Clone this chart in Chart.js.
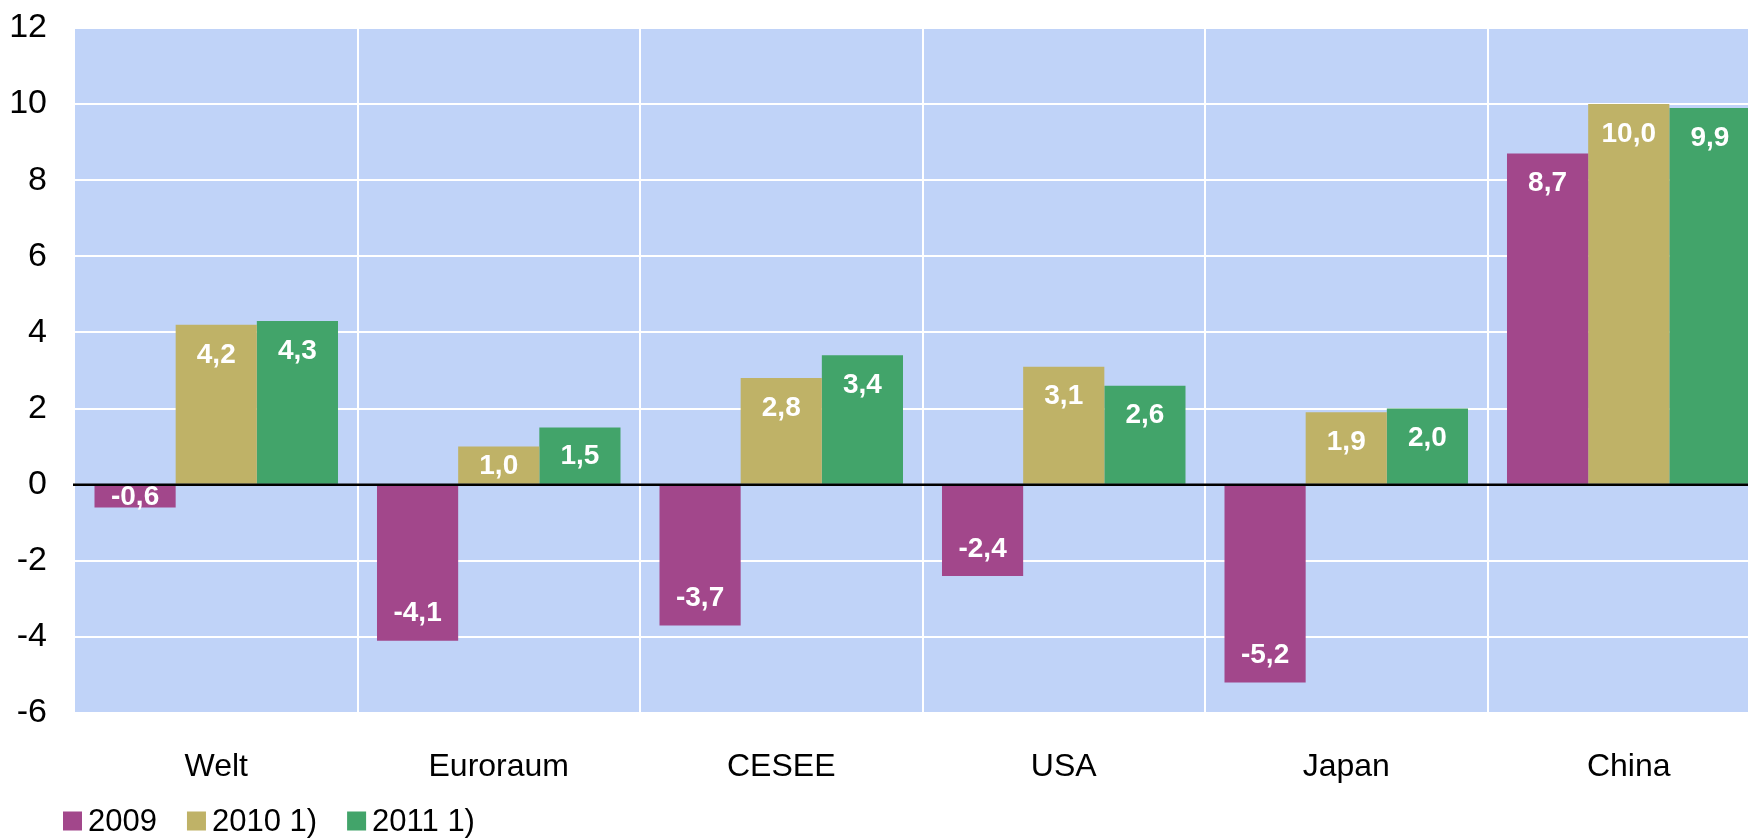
<!DOCTYPE html>
<html><head><meta charset="utf-8">
<script src="https://cdn.jsdelivr.net/npm/chart.js@4/dist/chart.umd.min.js"></script>
<style>html,body{margin:0;padding:0;overflow:hidden;background:#fff;width:1748px;height:838px}#wrap{width:1770px;height:838px}</style>
</head><body><div id="wrap"><canvas id="c" width="1770" height="838"></canvas></div>
<script>
const categories = ["Welt","Euroraum","CESEE","USA","Japan","China"];
const seriesNames = ["2009","2010 1)","2011 1)"];
const values2009 = [-0.6,-4.1,-3.7,-2.4,-5.2,8.7];
const values2010 = [4.2,1.0,2.8,3.1,1.9,10.0];
const values2011 = [4.3,1.5,3.4,2.6,2.0,9.9];
const colors = ["#A2478B","#BFB267","#42A46A"];
const yMin = -6, yMax = 12, yStep = 2;

const FONT = "'Liberation Sans', Arial, sans-serif";

const bgPlugin = {
  id:'bg',
  beforeDraw(chart){
    const {ctx, chartArea:a} = chart;
    ctx.save(); ctx.fillStyle = '#C0D3F8';
    ctx.fillRect(a.left, a.top, a.right-a.left, a.bottom-a.top);
    ctx.restore();
  },
  afterDatasetsDraw(chart){
    const {ctx, chartArea:a} = chart;
    const y0 = chart.scales.y.getPixelForValue(0);
    ctx.save(); ctx.strokeStyle='#000'; ctx.lineWidth=2.5;
    ctx.beginPath(); ctx.moveTo(a.left-2, y0); ctx.lineTo(a.right, y0); ctx.stroke();
    ctx.font = "bold 28px " + FONT; ctx.fillStyle='#fff';
    ctx.textAlign='center'; ctx.textBaseline='middle';
    chart.data.datasets.forEach((ds, di) => {
      chart.getDatasetMeta(di).data.forEach((bar, i) => {
        const v = ds.data[i];
        const h = Math.abs(bar.base - bar.y);
        let ty;
        if (h < 58) ty = (bar.base + bar.y)/2;
        else ty = v >= 0 ? bar.y + 29 : bar.y - 28;
        ctx.fillText(v.toFixed(1).replace('.', ','), bar.x, ty + 1);
      });
    });
    ctx.restore();
  },
  afterDraw(chart){
    const {ctx} = chart;
    ctx.save();
    ctx.font = "31px " + FONT; ctx.textBaseline='middle'; ctx.textAlign='left'; ctx.fillStyle='#000';
    let x = 63; const yc = 821;
    chart.data.datasets.forEach((ds) => {
      ctx.fillStyle = ds.backgroundColor;
      ctx.fillRect(x, yc-9.5, 19, 19);
      ctx.fillStyle = '#000';
      ctx.fillText(ds.label, x+25, yc+1);
      x = x + 25 + ctx.measureText(ds.label).width + 30;
    });
    ctx.restore();
  }
};

new Chart(document.getElementById('c'), {
  type:'bar',
  data:{
    labels: categories,
    datasets:[
      {label:seriesNames[0], data:values2009, backgroundColor:colors[0]},
      {label:seriesNames[1], data:values2010, backgroundColor:colors[1]},
      {label:seriesNames[2], data:values2011, backgroundColor:colors[2]}
    ]
  },
  options:{
    responsive:false, animation:false,
    layout:{padding:{top:28,left:0,right:0,bottom:0}},
    datasets:{bar:{categoryPercentage:0.862, barPercentage:1.0, borderWidth:0}},
    plugins:{legend:{display:false}, tooltip:{enabled:false}},
    scales:{
      x:{
        grid:{offset:true, drawTicks:false, lineWidth:2,
          color:(c)=> c.index===0 ? 'rgba(0,0,0,0)' : '#FFFFFF'},
        border:{display:false},
        ticks:{color:'#000', font:{family:FONT, size:32}, padding:35, maxRotation:0},
        afterFit:(s)=>{ s.height = 125; s.paddingLeft = 0; s.paddingRight = 0; }
      },
      y:{
        min:yMin, max:yMax,
        grid:{drawTicks:false, lineWidth:2, color:'#FFFFFF'},
        border:{display:false},
        ticks:{stepSize:yStep, color:'#000', font:{family:FONT, size:34}, padding:28,
          callback:(v)=> String(v)},
        afterFit:(s)=>{ s.width = 75; s.paddingTop = 0; s.paddingBottom = 0; }
      }
    }
  },
  plugins:[bgPlugin]
});
</script>
</body></html>
